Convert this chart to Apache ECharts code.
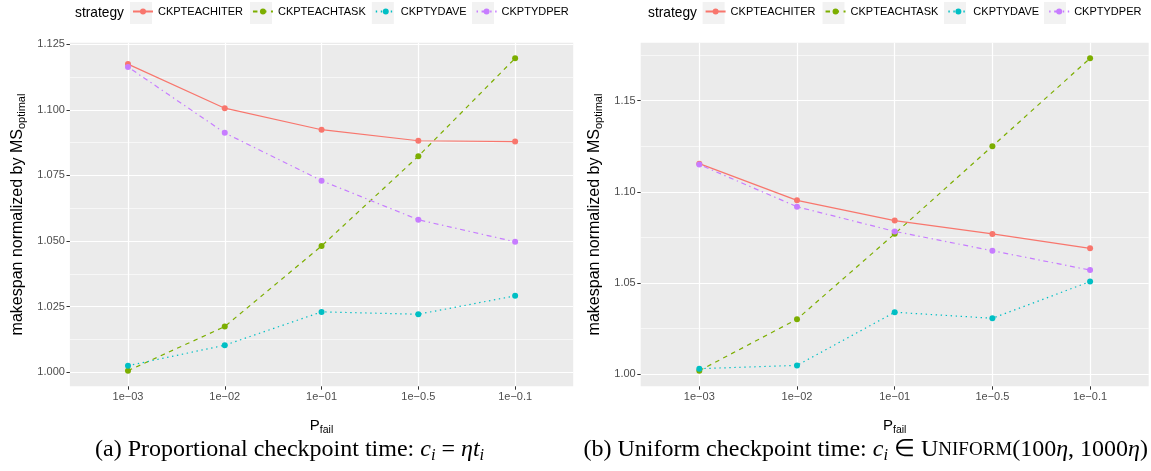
<!DOCTYPE html>
<html>
<head>
<meta charset="utf-8">
<script src="https://cdn.jsdelivr.net/npm/echarts@6/dist/echarts.min.js"></script>
<style>
html,body{margin:0;padding:0;background:#fff;}
#chart{width:1151px;height:471px;}
</style>
</head>
<body>
<div id="chart"></div>
<script>
// ---- data ----
const categories = ['1e\u221203', '1e\u221202', '1e\u221201', '1e\u22120.5', '1e\u22120.1'];
const strategies = ['CKPTEACHITER', 'CKPTEACHTASK', 'CKPTYDAVE', 'CKPTYDPER'];

// (a) proportional checkpoint time
const propEachIter = [1.1174, 1.1006, 1.0924, 1.0882, 1.0879];
const propEachTask = [1.0006, 1.0174, 1.0481, 1.0823, 1.1196];
const propYdAve    = [1.0025, 1.0103, 1.0230, 1.0221, 1.0291];
const propYdPer    = [1.1163, 1.0912, 1.0730, 1.0581, 1.0497];

// (b) uniform checkpoint time
const unifEachIter = [1.1154, 1.0953, 1.0842, 1.0769, 1.0690];
const unifEachTask = [1.0020, 1.0302, 1.0770, 1.1250, 1.1731];
const unifYdAve    = [1.0031, 1.0049, 1.0340, 1.0307, 1.0508];
const unifYdPer    = [1.1149, 1.0918, 1.0783, 1.0677, 1.0571];

// tick labels
const propTicks  = [1.000, 1.025, 1.050, 1.075, 1.100, 1.125];
const propMinor  = [1.0125, 1.0375, 1.0625, 1.0875, 1.1125];
const unifTicks  = [1.00, 1.05, 1.10, 1.15];
const unifMinor  = [1.025, 1.075, 1.125, 1.175];

// ---- styling ----
const colors = ['#F8766D', '#7CAE00', '#00BFC4', '#C77CFF'];
const dashes = ['solid', [4.5, 4.5], [1.4, 3.6], [1.4, 3.6, 5, 3.6]];
const SANS = 'Liberation Sans';
const SERIF = 'Liberation Serif';

const chart = echarts.init(document.getElementById('chart'), null, {renderer: 'canvas'});

const grids = [
  {left: 69.9, top: 42.7, width: 503.3, height: 343.6},
  {left: 640.7, top: 42.7, width: 508, height: 343.6}
];

const hiddenLine = {show: true, onZero: false, lineStyle: {color: 'rgba(0,0,0,0)', width: 0}};

function xAxisFor(gi) {
  const idx = categories.map((c, i) => i);
  return {
    type: 'value', gridIndex: gi, min: -0.6, max: categories.length - 0.4, position: 'bottom',
    axisLine: hiddenLine,
    axisTick: {show: true, customValues: idx, length: 3.4, lineStyle: {color: '#333333', width: 1}},
    axisLabel: {customValues: idx, formatter: v => categories[Math.round(v)], color: '#4D4D4D',
      fontSize: 11, fontFamily: SANS, margin: 5},
    splitLine: {show: true, lineStyle: {color: '#FFFFFF', width: 1.2}},
    name: '{a|P}{b|fail}', nameLocation: 'middle', nameGap: 30,
    nameTextStyle: {
      rich: {
        a: {fontSize: 15, fontFamily: SANS, color: '#000', lineHeight: 19},
        b: {fontSize: 10.5, fontFamily: SANS, color: '#000', lineHeight: 11, verticalAlign: 'bottom'}
      }
    }
  };
}

function yAxisMajor(gi, min, max, ticks, dec, gap) {
  return {
    type: 'value', gridIndex: gi, min: min, max: max, position: 'left',
    axisLine: hiddenLine,
    axisTick: {show: true, customValues: ticks, length: 3.4, lineStyle: {color: '#333333', width: 1}},
    axisLabel: {customValues: ticks, formatter: v => v.toFixed(dec), color: '#4D4D4D',
      fontSize: 11, fontFamily: SANS, margin: 5},
    splitLine: {show: true, lineStyle: {color: '#FFFFFF', width: 1.2}},
    name: '{a|makespan normalized by MS}{b|optimal}', nameLocation: 'middle', nameRotate: 90, nameGap: gap,
    nameTextStyle: {
      rich: {
        a: {fontSize: 16, fontFamily: SANS, color: '#000', lineHeight: 20},
        b: {fontSize: 11, fontFamily: SANS, color: '#000', lineHeight: 11, verticalAlign: 'bottom'}
      }
    }
  };
}

function yAxisMinor(gi, min, max, minor) {
  return {
    type: 'value', gridIndex: gi, min: min, max: max, position: 'right',
    axisLine: {show: false, onZero: false},
    axisTick: {show: false, customValues: minor},
    axisLabel: {show: false, customValues: minor},
    splitLine: {show: true, lineStyle: {color: '#FFFFFF', width: 0.6}}
  };
}

function makeSeries(gi, yi, arrays) {
  return arrays.map((arr, k) => ({
    name: strategies[k], type: 'line', xAxisIndex: gi, yAxisIndex: yi,
    data: arr.map((v, i) => [i, v]),
    symbol: 'circle', symbolSize: 6, showSymbol: true,
    itemStyle: {color: colors[k]},
    lineStyle: {color: colors[k], width: 1.2, type: dashes[k]},
    emphasis: {disabled: true},
    z: 2 + k
  }));
}

function legendFor(left) {
  return {
    left: left, top: 6, padding: 0, orient: 'horizontal',
    itemWidth: 20, itemHeight: 7.5, itemGap: 9,
    textStyle: {fontSize: 11, fontFamily: SANS, color: '#000'},
    data: strategies
  };
}

const keyRectsL = [130, 250, 371.8, 472];
const keyRectsR = [702.6, 822.5, 944, 1044];
const graphics = [];
keyRectsL.concat(keyRectsR).forEach(x => {
  graphics.push({type: 'rect', z: -1, silent: true, shape: {x: x, y: 2, width: 22, height: 22}, style: {fill: '#F2F2F2'}});
});
graphics.push({type: 'text', x: 75, y: 13, silent: true,
  style: {text: 'strategy', fontSize: 13.75, fontFamily: SANS, fill: '#000', verticalAlign: 'middle', align: 'left'}});
graphics.push({type: 'text', x: 648, y: 13, silent: true,
  style: {text: 'strategy', fontSize: 13.75, fontFamily: SANS, fill: '#000', verticalAlign: 'middle', align: 'left'}});

const capRich = {
  n: {fontSize: 24, fontFamily: SERIF, fill: '#000', lineHeight: 28},
  i: {fontSize: 24, fontFamily: SERIF, fontStyle: 'italic', fill: '#000', lineHeight: 28},
  s: {fontSize: 16.5, fontFamily: SERIF, fontStyle: 'italic', fill: '#000', lineHeight: 16, verticalAlign: 'bottom'},
  sc: {fontSize: 19, fontFamily: SERIF, fill: '#000', lineHeight: 28}
};
graphics.push({type: 'text', x: 95, y: 450, silent: true,
  style: {text: '{n|(a) Proportional checkpoint time: }{i|c}{s|i}{n| = }{i|\u03B7t}{s|i}',
    rich: capRich, align: 'left', verticalAlign: 'middle'}});
graphics.push({type: 'text', x: 1148, y: 450, silent: true,
  style: {text: '{n|(b) Uniform checkpoint time: }{i|c}{s|i}{n| \u2208 U}{sc|NIFORM}{n|(100}{i|\u03B7}{n|, 1000}{i|\u03B7}{n|)}',
    rich: capRich, align: 'right', verticalAlign: 'middle'}});

const option = {
  animation: false,
  backgroundColor: '#FFFFFF',
  grid: grids.map(g => Object.assign({show: true, backgroundColor: '#EBEBEB', borderWidth: 0, containLabel: false}, g)),
  legend: [legendFor(132), legendFor(704.6)],
  xAxis: [xAxisFor(0), xAxisFor(1)],
  yAxis: [
    yAxisMajor(0, 0.99465, 1.12555, propTicks, 3, 42),
    yAxisMinor(0, 0.99465, 1.12555, propMinor),
    yAxisMajor(1, 0.99344, 1.18166, unifTicks, 2, 36),
    yAxisMinor(1, 0.99344, 1.18166, unifMinor)
  ],
  series: [].concat(
    makeSeries(0, 0, [propEachIter, propEachTask, propYdAve, propYdPer]),
    makeSeries(1, 2, [unifEachIter, unifEachTask, unifYdAve, unifYdPer])
  ),
  graphic: graphics
};
chart.setOption(option);
</script>
</body>
</html>
